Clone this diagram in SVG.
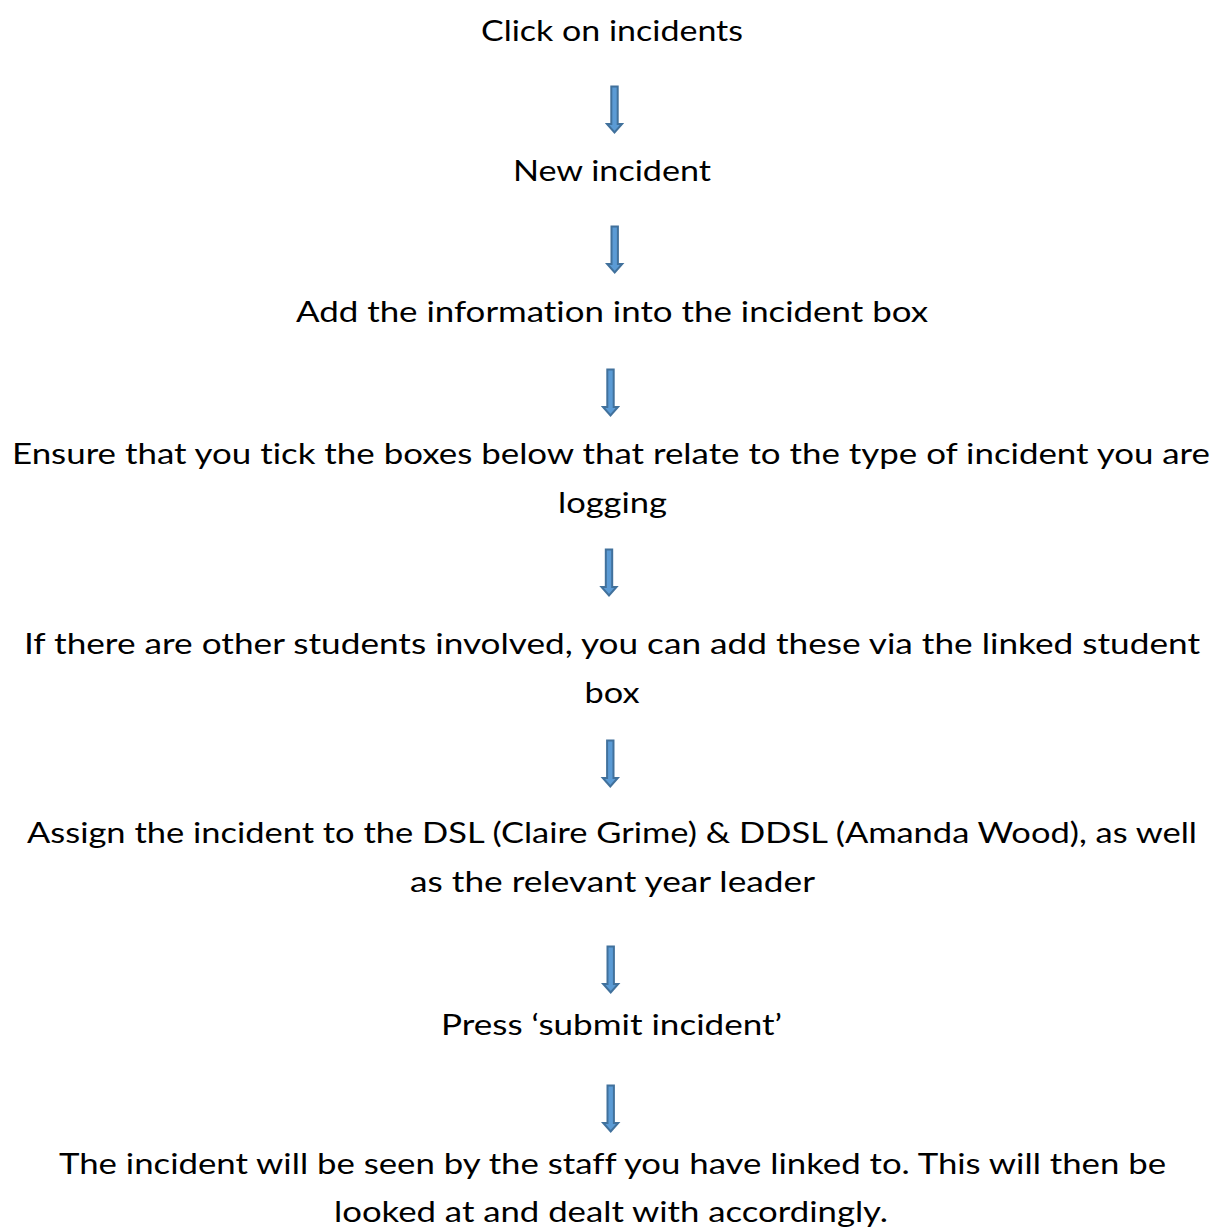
<svg xmlns="http://www.w3.org/2000/svg" xmlns:xlink="http://www.w3.org/1999/xlink" width="1213" height="1231" viewBox="0 0 1213 1231">
<style>
text{font-family:Lato,"Open Sans","Liberation Sans",sans-serif;font-size:29px;fill:#000;text-anchor:middle;font-variant-ligatures:none}
.arr{fill:#5b9bd5;stroke:#41719c;stroke-width:2;stroke-linejoin:miter}
</style>
<defs>
<polygon id="arrow" class="arr" points="-3.2,0.5 3.2,0.5 3.2,38 7.5,38 0,46.5 -7.5,38 -3.2,38"/>
</defs>
<rect width="1213" height="1231" fill="#fff"/>
<g id="n1"><text x="612" y="41" textLength="262" lengthAdjust="spacingAndGlyphs">Click on incidents</text></g>
<g id="n2"><text x="612" y="181" textLength="198" lengthAdjust="spacingAndGlyphs">New incident</text></g>
<g id="n3"><text x="612" y="322" textLength="632" lengthAdjust="spacingAndGlyphs">Add the information into the incident box</text></g>
<g id="n4"><text x="611" y="464" textLength="1198" lengthAdjust="spacingAndGlyphs">Ensure that you tick the boxes below that relate to the type of incident you are</text>
<text x="612.5" y="513" textLength="109" lengthAdjust="spacingAndGlyphs">logging</text></g>
<g id="n5"><text x="612" y="654" textLength="1176" lengthAdjust="spacingAndGlyphs">If there are other students involved,  you can add these via the linked student</text>
<text x="612" y="703" textLength="55" lengthAdjust="spacingAndGlyphs">box</text></g>
<g id="n6"><text x="612" y="843" textLength="1170" lengthAdjust="spacingAndGlyphs">Assign the incident to the DSL (Claire Grime) &amp; DDSL (Amanda Wood), as well</text>
<text x="612.5" y="892" textLength="405" lengthAdjust="spacingAndGlyphs">as the relevant year leader</text></g>
<g id="n7"><text x="611.5" y="1035" textLength="341" lengthAdjust="spacingAndGlyphs">Press ‘submit incident’</text></g>
<g id="n8"><text x="612.5" y="1174" textLength="1107" lengthAdjust="spacingAndGlyphs">The incident will be seen by the staff you have linked to. This will then be</text>
<text x="611" y="1222" textLength="554" lengthAdjust="spacingAndGlyphs">looked at and dealt with accordingly.</text></g>
<g id="connectors">
<use xlink:href="#arrow" x="614.5" y="86"/>
<use xlink:href="#arrow" x="614.7" y="226"/>
<use xlink:href="#arrow" x="610.5" y="369"/>
<use xlink:href="#arrow" x="609" y="549"/>
<use xlink:href="#arrow" x="610.3" y="740"/>
<use xlink:href="#arrow" x="610.7" y="946"/>
<use xlink:href="#arrow" x="610.7" y="1085"/>
</g>
</svg>
